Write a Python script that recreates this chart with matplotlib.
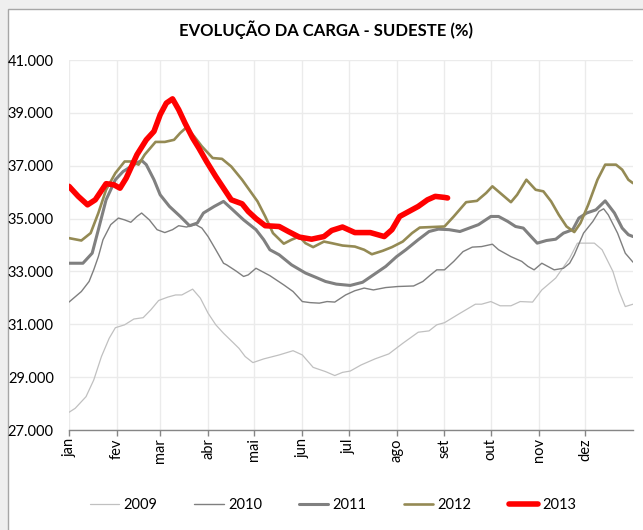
import matplotlib
matplotlib.use("Agg")
import matplotlib.pyplot as plt
from matplotlib.patches import Rectangle
from matplotlib.ticker import FuncFormatter, FixedLocator

# ---- data (day of year, load in MWmed/1000) ----
days_2009 = [0,4,11,16,21,26,30,36,42,48,53,58,64,69,73,80,85,90,95,100,106,110,114,119,126,136,145,151,158,166,
             172,177,182,189,198,207,216,226,233,238,243,252,263,267,273,279,286,292,300,306,315,324,329,340,345,352,356,360,365]
vals_2009 = [27.67,27.82,28.26,28.89,29.78,30.47,30.87,30.98,31.20,31.25,31.55,31.90,32.03,32.11,32.11,32.33,31.99,31.42,30.98,30.66,
             30.32,30.09,29.78,29.55,29.69,29.84,30.00,29.84,29.37,29.21,29.06,29.18,29.23,29.46,29.69,29.88,30.28,30.70,30.75,30.98,
             31.06,31.38,31.76,31.76,31.86,31.70,31.70,31.86,31.84,32.30,32.75,33.50,34.07,34.07,33.82,33.00,32.24,31.67,31.76]

days_2010 = [0,8,13,16,19,22,27,32,36,40,44,47,52,57,62,67,71,76,82,86,90,95,100,102,108,113,116,121,130,139,
             145,151,156,162,167,172,179,185,191,197,205,213,223,229,234,238,243,249,255,261,267,274,278,286,293,297,301,306,314,320,
             324,327,333,339,343,346,349,355,360,365]
vals_2010 = [31.84,32.24,32.62,33.06,33.56,34.20,34.77,35.02,34.95,34.86,35.08,35.21,34.95,34.58,34.47,34.58,34.73,34.68,34.77,34.64,
             34.32,33.82,33.31,33.25,33.02,32.81,32.87,33.12,32.84,32.49,32.24,31.86,31.82,31.80,31.86,31.84,32.11,32.27,32.37,32.30,
             32.39,32.43,32.45,32.62,32.87,33.06,33.06,33.38,33.75,33.92,33.94,34.03,33.82,33.56,33.38,33.19,33.06,33.31,33.06,33.12,
             33.31,33.63,34.45,34.89,35.27,35.37,35.14,34.45,33.69,33.35]

days_2011 = [0,9,15,19,24,30,35,42,47,50,55,59,65,72,78,83,87,94,100,106,113,121,126,130,136,144,153,160,166,173,
             182,190,197,205,212,218,226,233,239,246,253,259,265,273,278,284,289,294,299,303,309,315,320,326,330,335,341,347,353,358,362,365]
vals_2011 = [33.31,33.31,33.69,34.58,35.71,36.47,36.78,37.04,37.20,37.04,36.47,35.90,35.46,35.08,34.73,34.83,35.21,35.46,35.65,35.33,
             34.95,34.58,34.20,33.82,33.63,33.25,32.94,32.77,32.62,32.52,32.47,32.59,32.87,33.19,33.56,33.82,34.20,34.51,34.60,34.58,
             34.51,34.64,34.77,35.08,35.08,34.89,34.70,34.64,34.32,34.07,34.17,34.22,34.45,34.58,35.02,35.21,35.33,35.67,35.21,34.64,34.39,34.32]

days_2012 = [0,8,14,19,24,30,36,41,45,49,56,62,68,72,76,81,86,93,99,105,112,122,127,132,139,144,149,153,158,165,
             170,177,185,191,196,203,209,216,222,227,235,243,249,257,264,270,274,279,286,290,296,302,307,312,317,322,327,331,336,342,
             347,354,358,362,365]
vals_2012 = [34.26,34.17,34.45,35.21,36.09,36.72,37.16,37.16,37.04,37.42,37.90,37.90,37.98,38.24,38.45,38.11,37.73,37.29,37.26,36.97,
             36.47,35.65,35.08,34.45,34.05,34.20,34.32,34.07,33.92,34.13,34.07,33.98,33.94,33.82,33.65,33.78,33.92,34.13,34.45,34.66,
             34.68,34.70,35.08,35.62,35.67,35.97,36.22,35.97,35.62,35.90,36.47,36.09,36.03,35.65,35.14,34.70,34.49,34.83,35.52,36.47,
             37.04,37.04,36.85,36.47,36.34]

days_2013 = [0,6,12,17,24,29,33,37,44,50,55,59,63,67,71,75,80,84,89,95,100,105,112,116,121,127,136,142,149,157,
             165,170,177,185,195,204,209,214,220,226,232,237,243,245]
vals_2013 = [36.22,35.84,35.52,35.71,36.32,36.28,36.15,36.53,37.42,37.98,38.30,38.93,39.37,39.53,39.12,38.62,38.05,37.67,37.16,36.59,
             36.15,35.71,35.56,35.27,35.00,34.73,34.70,34.51,34.30,34.22,34.32,34.55,34.68,34.47,34.47,34.32,34.58,35.08,35.27,35.46,
             35.71,35.84,35.80,35.78]

month_starts = [0, 31, 59, 90, 120, 151, 181, 212, 243, 273, 304, 334]
month_labels = ["jan", "fev", "mar", "abr", "mai", "jun", "jul", "ago", "set", "out", "nov", "dez"]
y_ticks = [27, 29, 31, 33, 35, 37, 39, 41]
title = "EVOLUÇÃO DA CARGA - SUDESTE (%)"

series = [
    ("2009", days_2009, vals_2009, "#C0C0C0", 0.9),
    ("2010", days_2010, vals_2010, "#7F7F7F", 1.0),
    ("2011", days_2011, vals_2011, "#808080", 2.2),
    ("2012", days_2012, vals_2012, "#948A54", 1.9),
    ("2013", days_2013, vals_2013, "#FF0000", 4.0),
]

plt.rcParams['font.family'] = ['Lato', 'DejaVu Sans']

W, H = 643, 530
fig = plt.figure(figsize=(W / 100, H / 100), dpi=100)
fig.patch.set_facecolor("#EFEFEF")
fig.patches.append(Rectangle((8 / W, -0.01), 1.0, 1 - 9 / H + 0.01, transform=fig.transFigure,
                             facecolor="white", edgecolor="#A6A6A6", lw=1.0, zorder=-10))

ax = fig.add_axes([69 / W, 1 - 430 / H, (633 - 69) / W, (430 - 60) / H])
ax.set_zorder(5)
ax.set_facecolor("none")

for name, d, v, c, lw in series:
    ax.plot(d, v, color=c, lw=lw, label=name, solid_joinstyle="round", solid_capstyle="round")

ax.set_xlim(0, 365)
ax.set_ylim(27, 41)
ax.xaxis.set_major_locator(FixedLocator(month_starts))
ax.set_xticklabels(month_labels, rotation=90, fontsize=10.5, va="top", ha="center")
ax.yaxis.set_major_locator(FixedLocator(y_ticks))
ax.yaxis.set_major_formatter(FuncFormatter(lambda v, p: f"{v * 1000:,.0f}".replace(",", ".")))
ax.tick_params(axis="y", length=0, pad=11, labelsize=10.5)
ax.tick_params(axis="x", length=4, width=1, color="#868686", pad=2)
ax.grid(True, color="#EBEBEB", lw=1.0)
ax.set_axisbelow(True)
for s in ["top", "right", "left"]:
    ax.spines[s].set_visible(False)
ax.spines["bottom"].set_color("#868686")
ax.spines["bottom"].set_linewidth(1.0)

fig.text(326 / W, 1 - 30 / H, title, ha="center", va="center", fontsize=12, fontweight="bold")

leg = fig.legend(loc="center", bbox_to_anchor=(333 / W, 1 - 505 / H), ncol=5, frameon=False,
                 fontsize=10.5, handlelength=2.0, handletextpad=0.3, columnspacing=2.55)
leg.set_zorder(6)

fig.savefig("out.png", dpi=100)
